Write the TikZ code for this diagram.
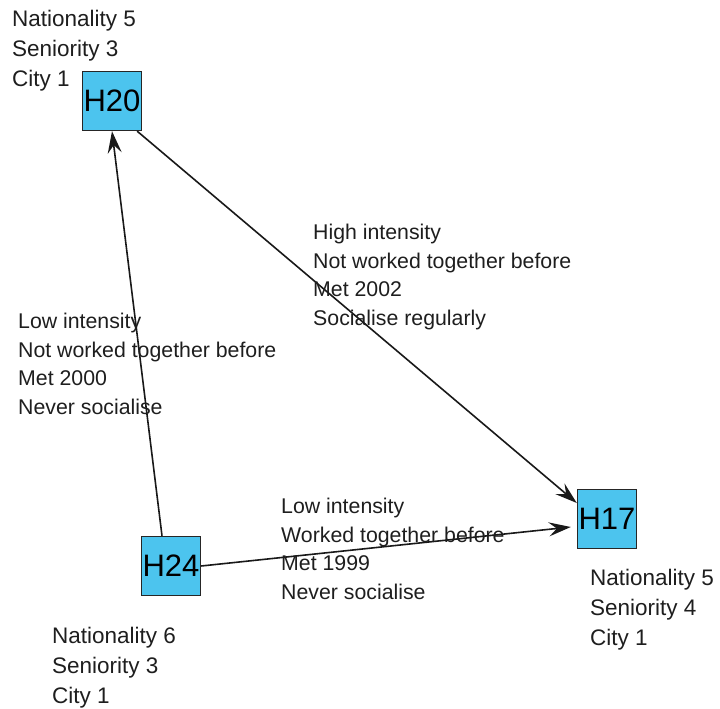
\documentclass[tikz,border=0pt]{standalone}
\usepackage{fontspec}
\setmainfont{Liberation Sans}
\usetikzlibrary{arrows.meta}
\definecolor{boxblue}{RGB}{76,196,238}
\definecolor{txt}{RGB}{30,30,30}
\tikzset{
  hbox/.style={draw=black!85, line width=1.4pt, fill=boxblue, minimum size=59pt, inner sep=0pt, font=\fontsize{31}{31}\selectfont, text=black},
  nlabel/.style={anchor=base west, inner sep=0pt, align=left, text=txt, font=\fontsize{22.5}{30}\selectfont},
  elabel/.style={anchor=base west, inner sep=0pt, align=left, text=txt, font=\fontsize{21.3}{28.5}\selectfont},
  link/.style={draw=black!90, line width=1.6pt, -{Stealth[length=22pt,width=14pt,inset=8pt]}}
}
\begin{document}
\begin{tikzpicture}[x=1pt,y=-1pt]
\useasboundingbox (0,0) rectangle (720,709);
\node[hbox] (h20) at (112,101) {H20};
\node[hbox] (h17) at (607,519) {H17};
\node[hbox] (h24) at (171,566) {H24};
\node[nlabel] (l20) at (12,86) {Nationality 5\\Seniority 3\\City 1};
\node[nlabel] (l17) at (590,645) {Nationality 5\\Seniority 4\\City 1};
\node[nlabel] (l24) at (52,703) {Nationality 6\\Seniority 3\\City 1};
\draw[link] ([xshift=-9pt]h24.north) -- (h20.south);
\draw[link] ([xshift=-5pt]h20.south east) -- ([yshift=16pt]h17.west);
\draw[link] (h24.east) -- ([xshift=-6pt,yshift=-8pt]h17.west);
\node[elabel] (e1) at (313,325) {High intensity\\Not worked together before\\Met 2002\\Socialise regularly};
\node[elabel] (e2) at (18,414) {Low intensity\\Not worked together before\\Met 2000\\Never socialise};
\node[elabel] (e3) at (281,599) {Low intensity\\Worked together before\\Met 1999\\Never socialise};
\end{tikzpicture}
\end{document}
